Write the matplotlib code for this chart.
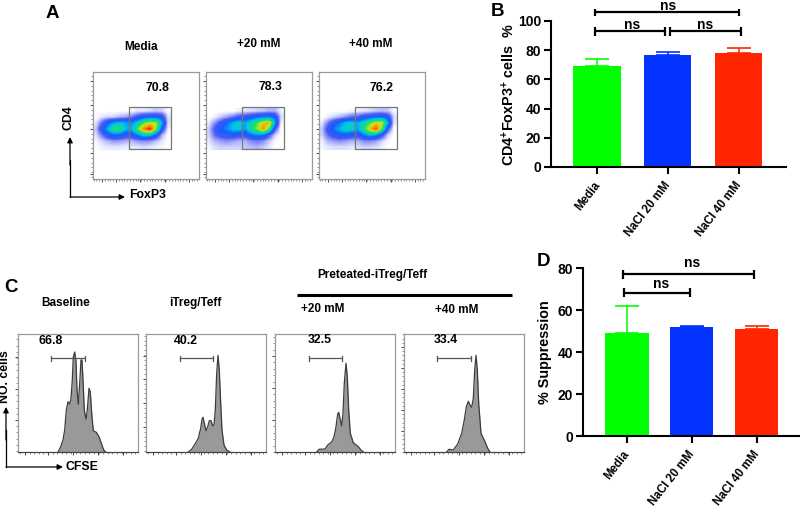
import numpy as np
import matplotlib
matplotlib.use('Agg')
import matplotlib.pyplot as plt
from matplotlib.colors import LinearSegmentedColormap
from matplotlib.patches import Rectangle
from matplotlib.ticker import AutoMinorLocator
from matplotlib.transforms import ScaledTranslation

plt.rcParams['font.family'] = ['Liberation Sans', 'DejaVu Sans']
plt.rcParams['font.weight'] = 'bold'
plt.rcParams['axes.labelweight'] = 'bold'
plt.rcParams['mathtext.fontset'] = 'custom'
plt.rcParams['mathtext.bf'] = 'Liberation Sans:bold'
plt.rcParams['mathtext.rm'] = 'Liberation Sans:bold'
plt.rcParams['mathtext.default'] = 'bf'

W, H = 800, 507

# Bar panels
bar_labels = ['Media', 'NaCl 20 mM', 'NaCl 40 mM']
bar_colors = ['#00FF00', '#0433FF', '#FF2600']
b_values = [69, 77, 78]
b_errors = [5.3, 1.7, 3.2]
d_values = [49, 52, 51]
d_errors = [12.7, 0.5, 1.5]

# Flow plots, density estimated per 6 px cell
flow_names = ['Media', '+20 mM', '+40 mM']
flow_percent = ['70.8', '78.3', '76.2']
density_media = [
    [0, 0, 0, 0, 0, 0, .01, .03, .03, .04, .06, .05, 0],
    [0, .03, .05, .05, .08, .10, .14, .22, .28, .30, .30, .25, .04],
    [.03, .16, .30, .40, .45, .40, .36, .48, .62, .72, .70, .42, .04],
    [.06, .26, .42, .58, .58, .42, .42, .64, .88, 1.0, .68, .26, .02],
    [.04, .14, .26, .32, .30, .24, .26, .36, .46, .44, .28, .08, 0],
    [.01, .05, .08, .11, .10, .08, .08, .11, .12, .11, .07, .03, 0],
    [0, .02, .03, .03, .03, .02, .03, .03, .04, .03, .02, .01, 0],
]
density_20 = [
    [0, 0, 0, 0, 0, .02, .03, .04, .05, .06, .08, .08, .02],
    [0, .02, .06, .10, .14, .20, .22, .26, .32, .34, .36, .30, .04],
    [.03, .12, .22, .32, .42, .48, .40, .50, .60, .76, .82, .40, .02],
    [.06, .20, .30, .36, .44, .46, .38, .52, .66, .86, .62, .20, 0],
    [.05, .16, .22, .24, .26, .22, .22, .32, .36, .34, .20, .05, 0],
    [.03, .08, .10, .12, .10, .08, .08, .12, .14, .12, .06, .01, 0],
    [.01, .04, .05, .05, .05, .05, .06, .07, .08, .06, .03, 0, 0],
]
density_40 = [
    [0, 0, 0, 0, 0, .01, .02, .03, .04, .06, .07, .06, .01],
    [0, .02, .05, .08, .12, .16, .18, .24, .28, .32, .32, .26, .04],
    [.03, .14, .26, .34, .44, .46, .40, .50, .62, .74, .74, .40, .03],
    [.06, .22, .34, .42, .50, .48, .40, .56, .78, .96, .62, .20, 0],
    [.05, .16, .24, .28, .28, .24, .24, .34, .42, .38, .22, .05, 0],
    [.02, .08, .10, .12, .10, .08, .08, .12, .12, .10, .05, .01, 0],
    [.01, .03, .04, .04, .04, .03, .04, .05, .05, .04, .02, 0, 0],
]
flow_density = [density_media, density_20, density_40]
density_colors = [(0, '#FFFFFF'), (.03, '#E4E7FF'), (.09, '#A0A8F8'), (.18, '#4A58F0'),
                  (.30, '#1060FF'), (.44, '#00C8E8'), (.58, '#20E060'), (.72, '#C8E820'),
                  (.86, '#FF8A00'), (1, '#E81010')]

# CFSE histograms: px from box left, height in px
hist_names = ['Baseline', 'iTreg/Teff', '+20 mM', '+40 mM']
hist_percent = ['66.8', '40.2', '32.5', '33.4']
hist_x = [
    [40, 42.7, 45, 46.7, 48.3, 50, 51.7, 53, 54.3, 55.3, 56.7, 58, 59, 60.3, 61.7, 63, 64, 65, 66.3, 68,
     69.3, 71, 72.3, 73.7, 75.3, 78.3, 81, 83.3, 85.7, 87.7],
    [42.3, 45.7, 49, 52.3, 54.7, 56, 57, 58.3, 60, 61.7, 63.3, 65, 66.7, 68, 69.3, 70.7, 72, 73.3, 74.7,
     76, 78, 80.7, 84],
    [41.7, 44, 50, 52.7, 56.7, 59, 61, 62.7, 63.7, 65, 66.7, 68, 69.3, 71, 72.3, 73.7, 75.3, 78.3, 83.3,
     86, 88.3],
    [42.7, 45, 49.3, 53.7, 57.7, 60.3, 62.3, 64.3, 66, 67.7, 69.3, 70.7, 72, 73.3, 74.7, 77, 81, 83.7, 86],
]
hist_y = [
    [0, 5.3, 12, 22, 42, 50.3, 48, 53.7, 72, 95, 100, 90.3, 62, 47.7, 68.7, 92, 92, 72, 42, 32.7,
     42, 63.7, 60.3, 38.7, 21.3, 19.7, 15.3, 8.7, 2, 0],
    [0, 2.7, 8, 13.7, 23.7, 32.7, 34.7, 28.7, 21.3, 25.3, 31.3, 31.3, 26, 27, 42, 78.7, 96.7, 82, 48.7,
     22, 7, 2, 0],
    [0, 2.7, 3, 7, 10, 15.3, 25.3, 38, 39.7, 33.7, 26, 38.7, 68.7, 88.7, 75.3, 42, 18.7, 9.3, 5.3,
     2, 0],
    [0, 2.7, 2, 8, 18.7, 32, 45.3, 50.7, 47, 44.7, 53.7, 82, 96.7, 82, 48.7, 18.7, 10.3, 3.7, 0],
]
hist_gate = [(33, 67), (34, 67), (34, 67), (33, 67)]
hist_left_ticks = [[95, 63, 32], [96, 73, 49, 25], [96, 64, 32], [105, 84, 63, 42, 21]]
hist_bottom_ticks = [7, 30, 55, 80, 105]
flow_bottom_ticks = [9, 23, 47, 72, 96]
flow_left_ticks = [9, 33, 57, 81, 102]


def px_axes(fig, left, top, right, bottom):
    return fig.add_axes([left / W, 1 - bottom / H, (right - left) / W, (bottom - top) / H])


def put(fig, x, y, s, size=8.5, **kw):
    fig.text(x / W, 1 - y / H, s, size=size, ha='center', va='center', **kw)


def flow_style(ax, left_ticks, bottom_ticks):
    for s in ax.spines.values():
        s.set_color('#9a9a9a')
        s.set_linewidth(0.9)
    ax.set_xticks(bottom_ticks)
    ax.set_yticks(left_ticks)
    ax.xaxis.set_minor_locator(AutoMinorLocator(5))
    ax.yaxis.set_minor_locator(AutoMinorLocator(5))
    ax.tick_params(which='major', length=2.2, width=0.7, color='#444444', labelleft=False, labelbottom=False, pad=0)
    ax.tick_params(which='minor', length=1.2, width=0.5, color='#666666')


def bar_panel(ax, values, errors, ymax, step, xlim, ylabel, ylabel_x):
    pos = np.arange(len(values))
    ax.bar(pos, values, width=0.665, color=bar_colors)
    for i in pos:
        ax.errorbar(i, values[i], yerr=[[0], [errors[i]]], color=bar_colors[i],
                    capsize=8.8, elinewidth=1.1, capthick=1.2, zorder=1)
    ax.set_xlim(*xlim)
    ax.set_ylim(0, ymax)
    ax.set_yticks(np.arange(0, ymax + 1, step))
    ax.set_xticks(pos)
    ax.spines[['top', 'right']].set_visible(False)
    ax.spines[['left', 'bottom']].set_linewidth(1.5)
    ax.tick_params(length=5, width=1.5, pad=2)
    ax.tick_params(axis='y', labelsize=10)
    ax.tick_params(axis='x', pad=4)
    ax.set_xticklabels(bar_labels, rotation=52, ha='right', va='top', rotation_mode='anchor', size=8.4)
    # labels sit a little left of the tick in the original
    nudge = ScaledTranslation(-4 / 100, 0, fig.dpi_scale_trans)
    for lab in ax.get_xticklabels():
        lab.set_transform(lab.get_transform() + nudge)
    ax.set_ylabel(ylabel, size=10.4)
    ax.yaxis.set_label_coords(ylabel_x, 0.5)


def bracket(ax, x0, x1, y, cap):
    ax.plot([x0, x1], [y, y], color='black', lw=1.6, clip_on=False, solid_capstyle='butt')
    for x in (x0, x1):
        ax.plot([x, x], [y - cap, y + cap], color='black', lw=1.6, clip_on=False, solid_capstyle='butt')


def arrow(overlay, start, end):
    overlay.annotate('', xy=end, xytext=start,
                     arrowprops=dict(arrowstyle='-|>', color='black', lw=0.9, mutation_scale=8,
                                     shrinkA=0, shrinkB=0))


fig = plt.figure(figsize=(W / 100, H / 100), dpi=100)
overlay = fig.add_axes([0, 0, 1, 1])
overlay.set_xlim(0, W)
overlay.set_ylim(H, 0)
overlay.axis('off')

# panel letters
put(fig, 52, 13, 'A', size=13.5)
put(fig, 497, 12, 'B', size=13.5)
put(fig, 11, 287, 'C', size=13.5)
put(fig, 543, 262, 'D', size=13.5)

# A: flow plots
cmap = LinearSegmentedColormap.from_list('flow', density_colors)
flow_lefts = [93, 206, 319]
name_pos = [(141, 47), (259, 44), (371, 44)]
pct_pos = [(157, 88), (270, 87), (382, 88)]
for i, left in enumerate(flow_lefts):
    ax = px_axes(fig, left, 72, left + 106, 179)
    ax.imshow(flow_density[i], cmap=cmap, vmin=0, vmax=1, interpolation='bilinear',
              extent=(0, 78, 78, 36), aspect='auto')
    ax.set_xlim(0, 106)
    ax.set_ylim(107, 0)
    ax.add_patch(Rectangle((36, 35), 42, 42, fill=False, ec='#777777', lw=0.9))
    flow_style(ax, flow_left_ticks, flow_bottom_ticks)
    put(fig, name_pos[i][0], name_pos[i][1], flow_names[i])
    put(fig, pct_pos[i][0], pct_pos[i][1], flow_percent[i], size=8.8)

overlay.plot([70, 70], [197, 160], color='black', lw=0.9)
arrow(overlay, (70, 165), (70, 137))
arrow(overlay, (70, 197), (125, 197))
put(fig, 69, 118, 'CD4', rotation=90, size=8.8)
put(fig, 148, 195, 'FoxP3', size=8.8)

# B: bars
ax_b = px_axes(fig, 551, 21, 786, 167)
bar_panel(ax_b, b_values, b_errors, 100, 20, (-0.65, 2.67),
          r'CD4$^{+}$FoxP3$^{+}$ cells  %', -0.145)
bracket(ax_b, -0.03, 2.0, 106, 2.4)
bracket(ax_b, -0.025, 0.96, 93, 3)
bracket(ax_b, 1.03, 2.03, 93, 3)
ax_b.text(0.495, 94.5, 'ns', ha='center', va='baseline', size=10, clip_on=False)
ax_b.text(1.53, 94.5, 'ns', ha='center', va='baseline', size=10, clip_on=False)
ax_b.text(1.0, 107.3, 'ns', ha='center', va='baseline', size=10, clip_on=False)

# C: histograms
hist_lefts = [18, 146, 275, 404]
hist_name_pos = [(66, 303), (195, 303), (323, 309), (457, 310)]
hist_pct_pos = [(51, 341), (186, 341), (320, 340), (446, 340)]
for i, left in enumerate(hist_lefts):
    ax = px_axes(fig, left, 334, left + 120, 452)
    ax.fill_between(hist_x[i], hist_y[i], 0, color='#999999', lw=0)
    ax.plot(hist_x[i], hist_y[i], color='#3c3c3c', lw=0.9)
    ax.set_xlim(0, 120)
    ax.set_ylim(0, 118)
    g0, g1 = hist_gate[i]
    ax.plot([g0, g1], [94, 94], color='#555555', lw=0.9)
    for g in (g0, g1):
        ax.plot([g, g], [91.5, 96.5], color='#555555', lw=0.9)
    flow_style(ax, hist_left_ticks[i], hist_bottom_ticks)
    ax.spines['bottom'].set_color('#444444')
    put(fig, hist_name_pos[i][0], hist_name_pos[i][1], hist_names[i])
    put(fig, hist_pct_pos[i][0], hist_pct_pos[i][1], hist_percent[i], size=8.8)

put(fig, 372, 275, 'Preteated-iTreg/Teff')
overlay.plot([297, 512], [295, 295], color='black', lw=2.2, solid_capstyle='butt')
overlay.plot([6, 6], [467, 430], color='black', lw=0.9)
arrow(overlay, (6, 440), (6, 407))
arrow(overlay, (6, 467), (63, 467))
put(fig, 5, 377, 'NO. cells', rotation=90, size=8.8)
put(fig, 82, 467, 'CFSE', size=8.8)

# D: bars
ax_d = px_axes(fig, 583, 268, 799, 436)
bar_panel(ax_d, d_values, d_errors, 80, 20, (-0.677, 2.65), '% Suppression', -0.144)
bracket(ax_d, -0.06, 1.96, 77, 2.2)
bracket(ax_d, -0.04, 0.97, 68.2, 2.2)
ax_d.text(0.52, 70.3, 'ns', ha='center', va='baseline', size=10)
ax_d.text(1.01, 80.3, 'ns', ha='center', va='baseline', size=10, clip_on=False)

fig.savefig('out.png', dpi=100)
